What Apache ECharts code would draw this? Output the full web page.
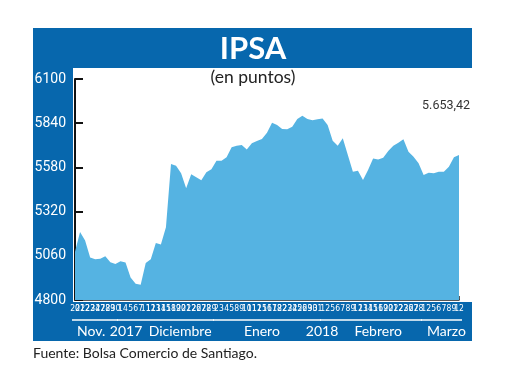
<!DOCTYPE html>
<html><head><meta charset="utf-8">
<script src="https://cdn.jsdelivr.net/npm/echarts@6/dist/echarts.min.js"></script>
<style>html,body{margin:0;padding:0;background:#fff}#c{width:520px;height:390px}</style>
</head><body><div id="c"></div>
<script>
const dayLabels = [
 '20','21','22','23','24','27','28','29','30',
 '1','4','5','6','7','11','12','13','14','15','18','19','20','21','22','26','27','28','29',
 '2','3','4','5','8','9','10','11','12','15','16','17','18','22','23','24','25','26','29','30','31',
 '1','2','5','6','7','8','9','12','13','14','15','16','19','20','21','22','23','26','27','28',
 '1','2','5','6','7','8','9','12'];
const ipsaValues = [
 5084,5200,5150,5050,5040,5042,5058,5022,5012,5028,5020,4932,4895,4889,5018,5040,5135,5127,5228,
 5600,5590,5545,5457,5539,5522,5504,5551,5569,5619,5619,5639,5698,5708,5712,5686,5722,5735,5747,5784,
 5843,5829,5806,5804,5819,5865,5884,5865,5858,5863,5868,5829,5737,5708,5751,5653,5555,5560,5506,5565,
 5633,5627,5637,5676,5708,5725,5745,5672,5643,5604,5535,5549,5545,5555,5555,5584,5639,5653.42];
const monthLabelIdx = [3.2, 10.1, 20.8, 37, 48.9, 60, 73.5];
const monthLabelText = ['Nov.', '2017', 'Diciembre', 'Enero', '2018', 'Febrero', 'Marzo'];
const monthSpans = [[0,8],[9,27],[28,48],[49,68],[69,76]];
const titleText = 'IPSA';
const unitText = '(en puntos)';
const lastValueText = '5.653,42';
const sourceText = 'Fuente: Bolsa Comercio de Santiago.';

const BLUE = '#0767ad';
const NARROW = "Roboto, 'DejaVu Sans Condensed', sans-serif";
const SANS = "Lato, 'Open Sans', sans-serif";
const chart = echarts.init(document.getElementById('c'), null, {renderer:'canvas'});

chart.setOption({
  animation:false,
  backgroundColor:'#fff',
  grid:{left:75, right:61, top:79, bottom:90},
  xAxis:{
    type:'category', data:dayLabels, boundaryGap:false,
    axisLine:{show:true, lineStyle:{color:'#222', width:1.5}},
    axisTick:{show:true, inside:true, length:4, interval:function(i){return i===dayLabels.length-1;}, lineStyle:{color:'#222', width:1.5}},
    axisLabel:{interval:0, color:'#fff', fontSize:8.5, fontFamily:"'DejaVu Sans Condensed', sans-serif", margin:4, hideOverlap:false},
    splitLine:{show:false}
  },
  yAxis:{
    type:'value', min:4800, max:6100, interval:260,
    axisLine:{show:true, lineStyle:{color:'#111', width:2}},
    axisTick:{show:true, inside:true, length:8, lineStyle:{color:'#111', width:2}},
    axisLabel:{color:'#fff', fontSize:14, fontFamily:NARROW, margin:9, formatter:function(v){return String(v);}},
    splitLine:{show:false}
  },
  series:[{
    type:'line', data:ipsaValues, symbol:'none', showSymbol:false,
    lineStyle:{width:0, color:'#55b3e2'},
    areaStyle:{color:'#55b3e2', opacity:1},
    z:1
  }]
});
const px = function(i){ return chart.convertToPixel({xAxisIndex:0}, i); };
const pxf = function(f){ const a = Math.floor(f), b = Math.min(a+1, dayLabels.length-1); return px(a) + (px(b)-px(a))*(f-a); };
const elems = [
  {type:'rect', shape:{x:33,y:28,width:439,height:313}, style:{fill:BLUE}, z:-10, silent:true},
  {type:'rect', shape:{x:73,y:68,width:399,height:234}, style:{fill:'#fff'}, z:-9, silent:true},
  {type:'text', x:253, y:49, style:{text:titleText, fill:'#fff', font:"bold 31px "+SANS, align:'center', verticalAlign:'middle'}},
  {type:'text', x:253, y:77, style:{text:unitText, fill:'#222', font:"17.5px "+SANS, align:'center', verticalAlign:'middle'}},
  {type:'text', x:470, y:106, style:{text:lastValueText, fill:'#333', font:"12.5px "+NARROW, align:'right', verticalAlign:'middle'}},
  {type:'text', x:33, y:353, style:{text:sourceText, fill:'#222', font:"14px "+SANS, align:'left', verticalAlign:'middle'}}
];
monthSpans.forEach(function(s){
  const x1 = Math.round(px(s[0])) - 3, x2 = Math.round(px(s[1])) + 3;
  elems.push({type:'line', shape:{x1:x1, y1:320, x2:x2, y2:320}, style:{stroke:'#ffffff', lineWidth:1.5, fill:null}, z:50, silent:true});
});
monthLabelIdx.forEach(function(f, k){
  elems.push({type:'text', x:pxf(f), y:331, style:{text:monthLabelText[k], fill:'#fff', font:"14px "+SANS, align:'center', verticalAlign:'middle'}, z:5});
});
chart.setOption({graphic: {elements: elems}});
</script></body></html>
